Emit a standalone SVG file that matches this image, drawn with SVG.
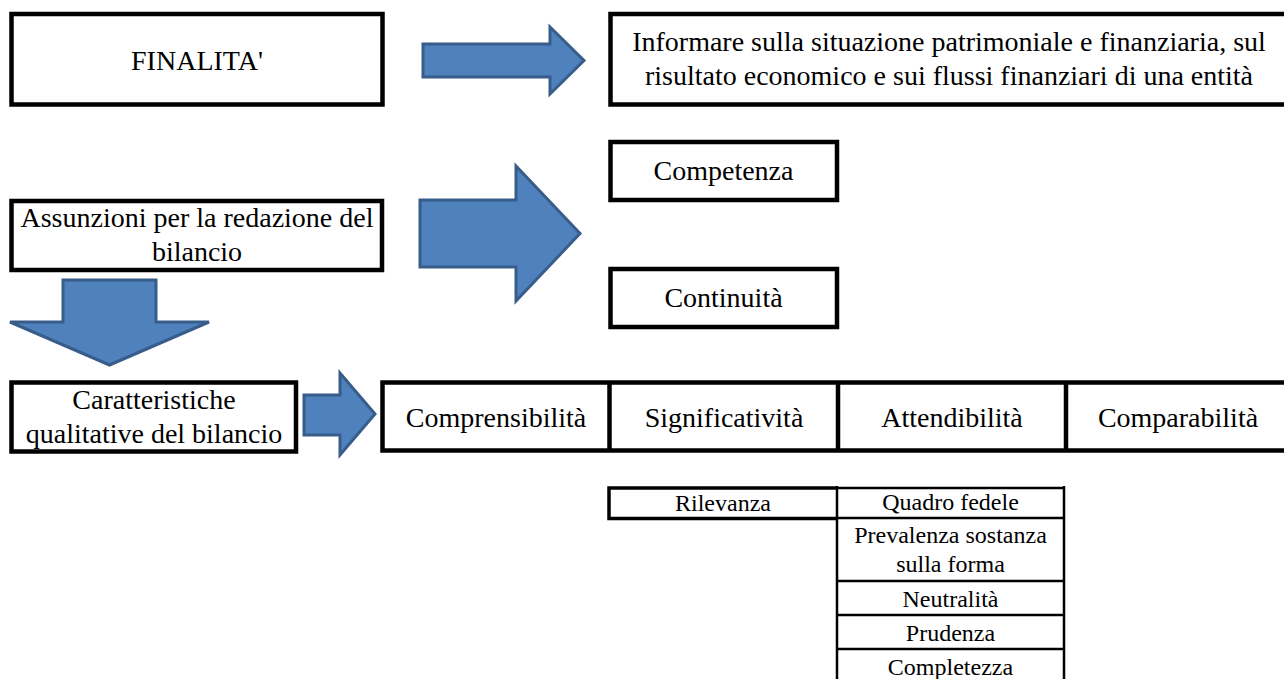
<svg xmlns="http://www.w3.org/2000/svg" width="1284" height="679" viewBox="0 0 1284 679">
<style>
.box{fill:#fff;stroke:#000;stroke-width:4.5}
.t{font-family:"Liberation Serif","Times New Roman",serif;font-size:28px;fill:#000;text-anchor:middle}
.s{font-family:"Liberation Serif","Times New Roman",serif;font-size:24px;fill:#000;text-anchor:middle}
.arr{fill:#4F81BD;stroke:#385D8A;stroke-width:3;stroke-linejoin:miter}
.tl{stroke:#000;stroke-width:2.5;fill:none}
.tk{stroke:#000;stroke-width:3.5;fill:none}
</style>
<rect width="1284" height="679" fill="#fff"/>
<g id="connectors">
<path class="arr" d="M423,44 L550,44 L550,27 L584,60.5 L550,94 L550,77 L423,77 Z"/>
<path class="arr" d="M420,200 L516,200 L516,166 L580,233.5 L516,301 L516,267 L420,267 Z"/>
<path class="arr" d="M63,280 L156,280 L156,322 L209,322 L109.5,365 L10,322 L63,322 Z"/>
<path class="arr" d="M304,395 L340,395 L340,373 L375,414 L340,455 L340,435 L304,435 Z"/>
</g>
<g id="finalita">
<rect class="box" x="11.5" y="14" width="371" height="90.5"/>
<text class="t" x="197" y="70">FINALITA'</text>
</g>
<g id="informare">
<rect class="box" x="610.5" y="14" width="690" height="90.5"/>
<text class="t" x="949" y="51">Informare sulla situazione patrimoniale e finanziaria, sul</text>
<text class="t" x="949" y="85">risultato economico e sui flussi finanziari di una entità</text>
</g>
<g id="competenza">
<rect class="box" x="610.5" y="142" width="226.5" height="58"/>
<text class="t" x="723.5" y="180">Competenza</text>
</g>
<g id="continuita">
<rect class="box" x="610.5" y="269" width="226.5" height="58"/>
<text class="t" x="723.5" y="307">Continuità</text>
</g>
<g id="assunzioni">
<rect class="box" x="11.5" y="201" width="370.5" height="69"/>
<text class="t" x="197" y="227">Assunzioni per la redazione del</text>
<text class="t" x="197" y="261">bilancio</text>
</g>
<g id="caratteristiche">
<rect class="box" x="11.5" y="382.5" width="284.5" height="69"/>
<text class="t" x="154" y="409">Caratteristiche</text>
<text class="t" x="154" y="443">qualitative del bilancio</text>
</g>
<g id="qualita">
<rect class="box" x="382.5" y="382.5" width="910" height="68"/>
<line class="box" x1="609.5" y1="382.5" x2="609.5" y2="450.5"/>
<line class="box" x1="838" y1="382.5" x2="838" y2="450.5"/>
<line class="box" x1="1066" y1="382.5" x2="1066" y2="450.5"/>
<text class="t" x="496" y="427">Comprensibilità</text>
<text class="t" x="724" y="427">Significatività</text>
<text class="t" x="952" y="427">Attendibilità</text>
<text class="t" x="1178" y="427">Comparabilità</text>
</g>
<g id="tabella">
<path class="tk" d="M837,488 H609 V518.5 H837"/>
<path class="tl" d="M837,488 H1064 M837,518 H1064 M837,486 V679 M1064,486 V679 M837,581 H1064 M837,615 H1064 M837,649 H1064"/>
<text class="s" x="723" y="511">Rilevanza</text>
<text class="s" x="950.5" y="510">Quadro fedele</text>
<text class="s" x="950.5" y="543">Prevalenza sostanza</text>
<text class="s" x="950.5" y="572">sulla forma</text>
<text class="s" x="950.5" y="607">Neutralità</text>
<text class="s" x="950.5" y="641">Prudenza</text>
<text class="s" x="950.5" y="675">Completezza</text>
</g>
</svg>
